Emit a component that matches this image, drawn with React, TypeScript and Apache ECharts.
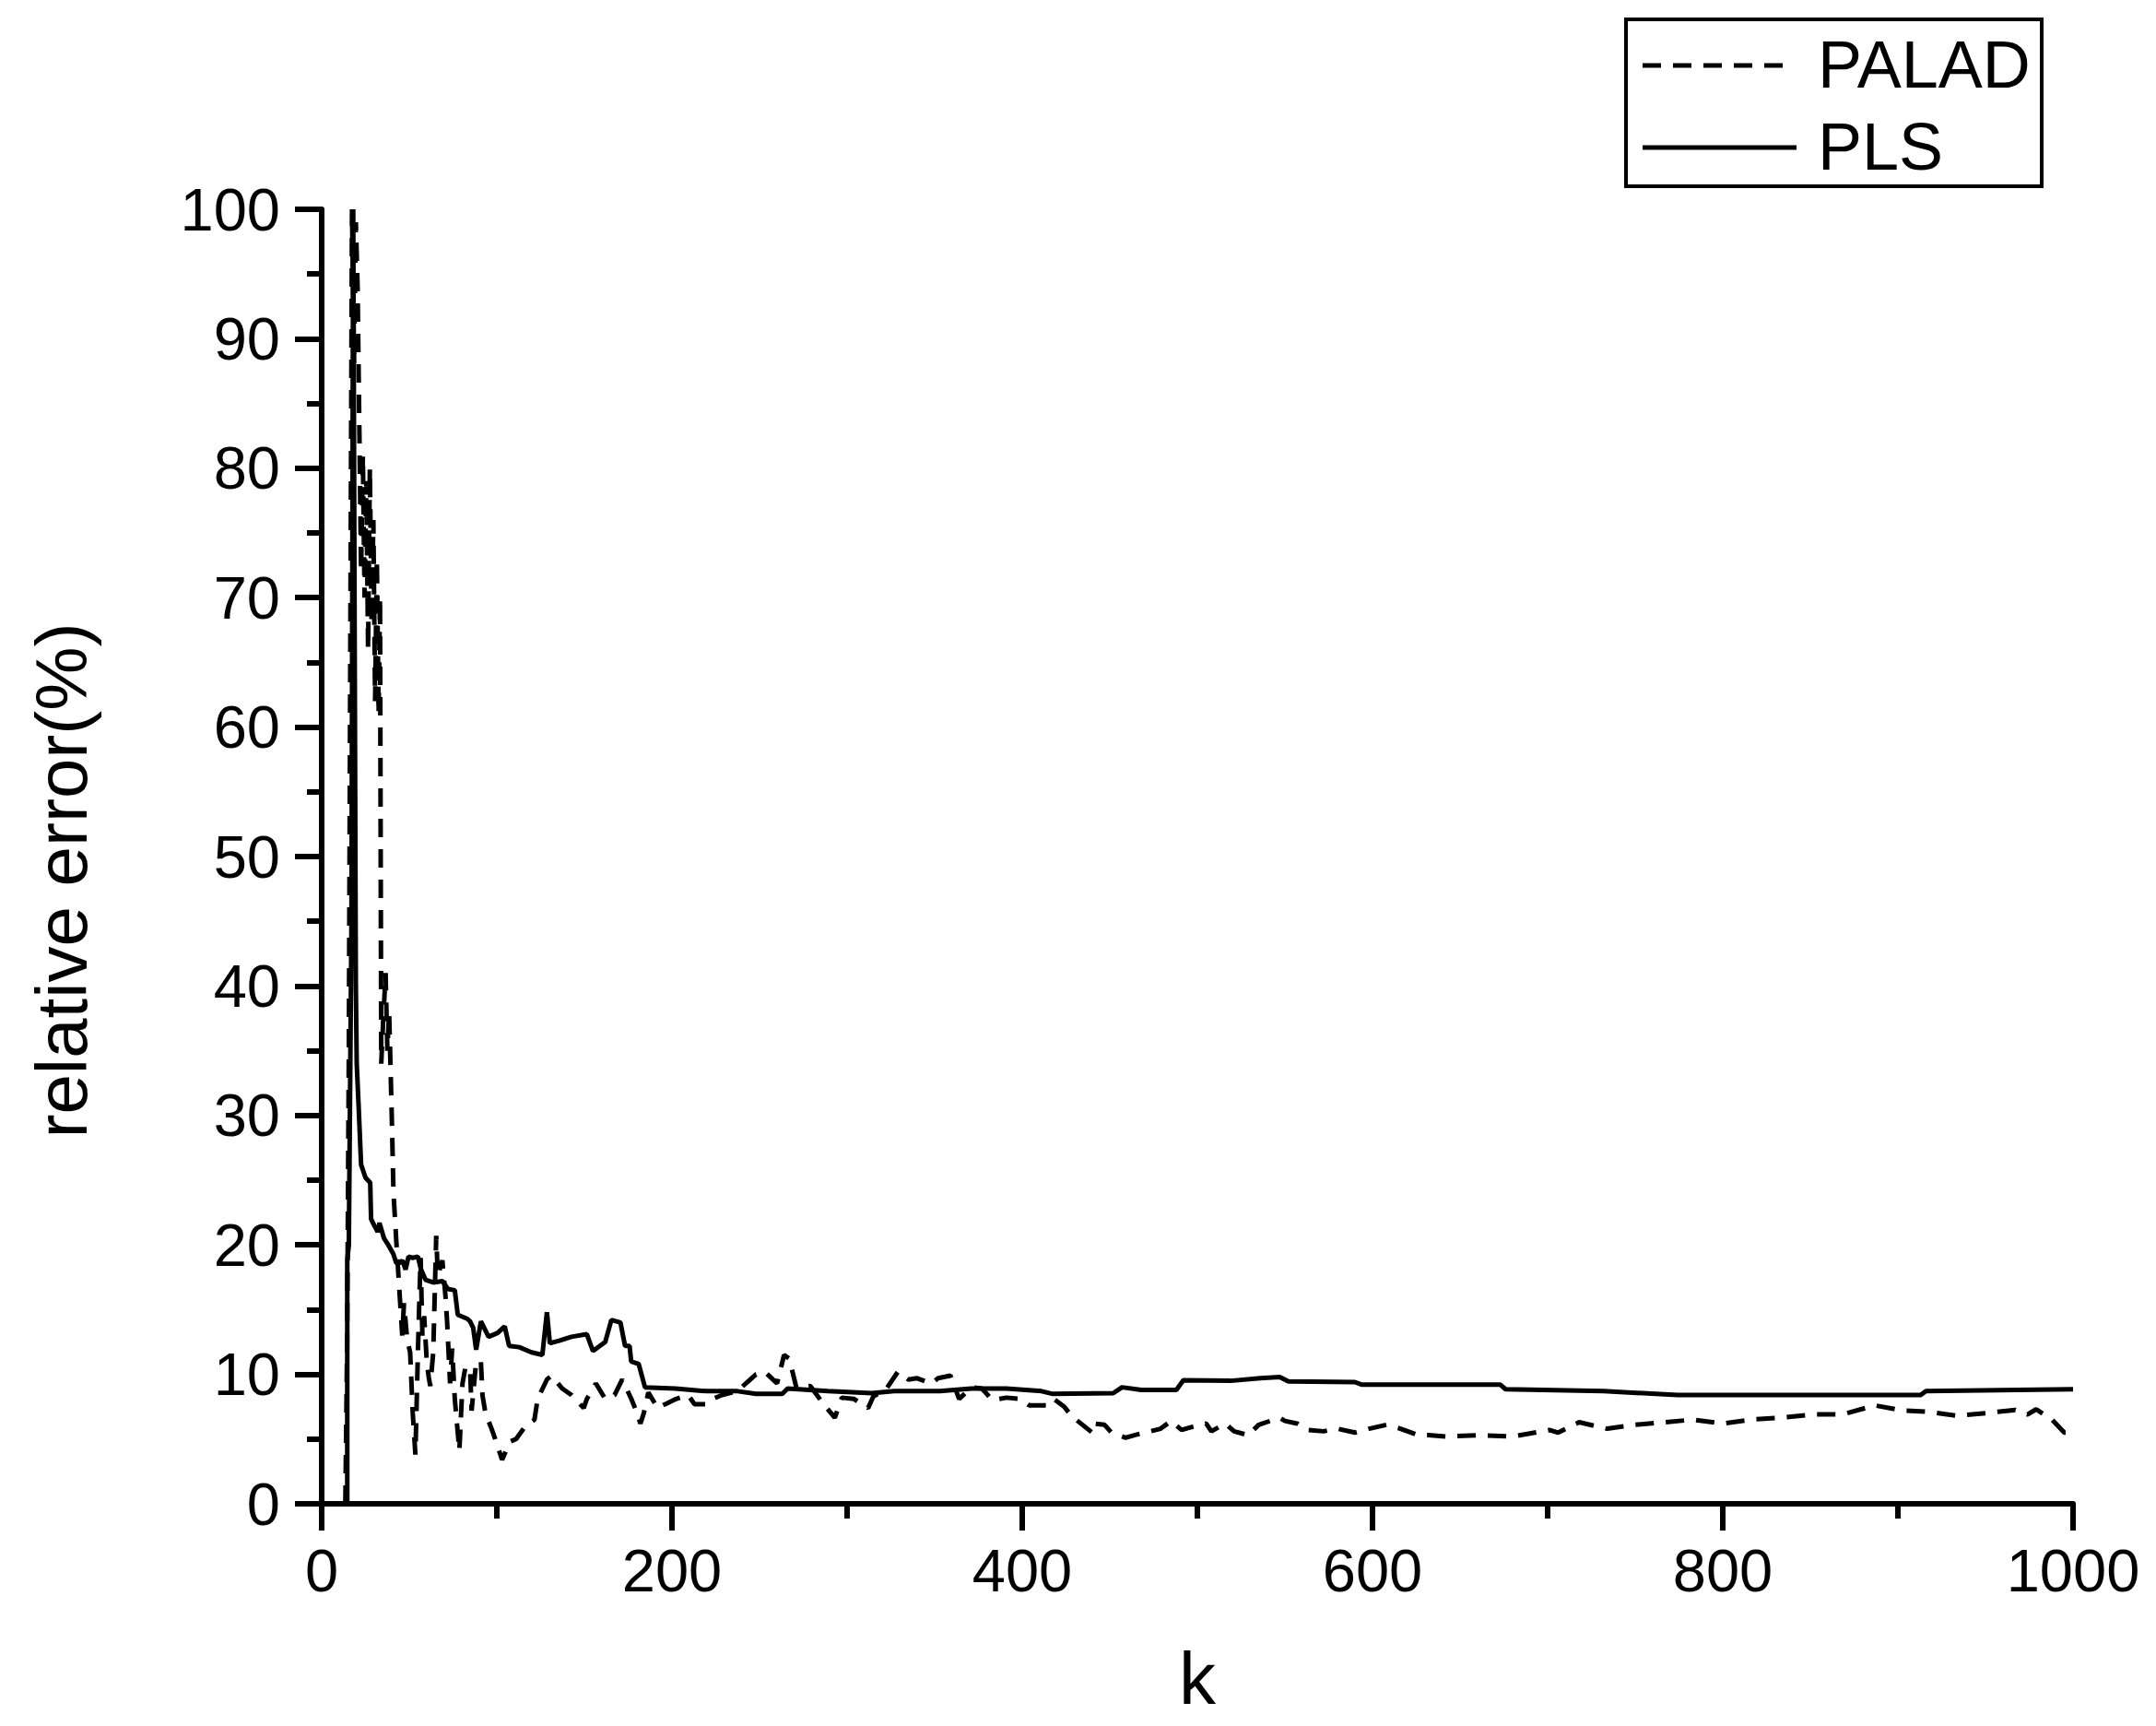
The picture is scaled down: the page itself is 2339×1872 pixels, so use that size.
import { useEffect, useRef } from 'react';
import * as echarts from 'echarts';

const FONT = 'Arial, "Liberation Sans", sans-serif';

// x: iteration k, y: relative error (%)
const paladK = [
  13.5, 14.5, 15.5, 16.5, 17.3, 18.5, 19.5, 20.5, 21.5, 22.5, 23.5, 24.5, 25.5, 26.5, 27.5, 28.5, 29.5,
  30.5, 31.5, 32.5, 33.3, 34, 35, 36.5, 37.5, 38.5, 40, 41, 42.6, 44.4, 46, 47, 48.8, 50.5, 52, 53.5,
  55, 55.8, 56.5, 57.5, 58.5, 60, 61.1, 62, 63.7, 65.4, 66.3, 68.9, 70.7, 71.6, 73.3, 74.5, 76, 78.6,
  80.4, 82, 84.7, 85.6, 88.2, 90.9, 91.8, 93.5, 97, 99.6, 103, 107.5, 111, 116.3, 121.5, 123.3, 128.6,
  131.2, 137.4, 142.6, 149.6, 151.4, 156.6, 161.9, 167.2, 171.6, 173.3, 176.8, 179.5, 182, 183.9, 186.5,
  191.8, 196.2, 202.3, 209.3, 212.8, 219.8, 223.3, 228.6, 237.4, 243, 248, 253, 260, 264, 267, 271, 279,
  286, 293, 297, 304, 312, 315, 322, 329, 335, 340, 348, 352, 359, 364, 371, 377, 383, 391, 399, 404,
  414, 418, 424, 428, 440, 441, 447, 451, 459, 464, 473, 479, 485, 491, 496, 505, 508, 516, 521, 529,
  535, 547, 550, 557, 563, 572, 580, 590, 598, 608, 616, 626, 632, 642, 661, 680, 701, 706, 718, 734,
  750, 767, 783, 800, 816, 833, 852, 868, 887, 903, 918, 934, 950, 967, 974, 979, 988, 995, 1000,
];
const paladErr = [
  0, 12, 35, 72, 100, 88, 99, 94, 83, 72, 81, 70, 79, 66, 80, 68, 76,
  62, 73, 61, 70, 34, 37, 41, 35, 38, 30, 24, 20.3, 16.4, 13, 15.5, 12.7, 11.7, 7, 3.8,
  12, 16, 19, 13, 14.5, 11, 9.8, 9.1, 11.7, 20.7, 17.6, 18.8, 16, 14.1, 9.3, 12, 8.1, 4.1,
  9.3, 10.5, 10.5, 7.2, 11, 11, 8.4, 7, 5.8, 4.8, 3.4, 4.8, 5, 6, 6.5, 8.1, 9.6,
  9.9, 8.9, 8.4, 7.4, 8.1, 9.3, 8.1, 8.4, 9.6, 9.1, 8.1, 7.2, 6.2, 7, 8.6,
  7.4, 7.7, 8.1, 8.4, 7.7, 7.7, 8.1, 8.4, 8.7, 9.4, 10, 10.2, 9.3, 11.5, 11.2, 9, 9.1,
  7.8, 6.65, 8.2, 8.1, 7.4, 8.3, 8.8, 10.2, 9.6, 9.7, 9.3, 9.7, 9.9, 8.1, 9, 8.9, 8, 8.2, 8.1, 7.6,
  7.6, 8.1, 7.5, 6.8, 5.5, 6.2, 6.1, 5.5, 5.1, 5.3, 5.6, 5.8, 6.4, 5.7, 5.9, 6.2, 5.6, 6.2, 5.6, 5.3,
  6.1, 6.65, 6.4, 6.2, 5.7, 5.6, 5.8, 5.5, 5.8, 6.1, 5.8, 5.3, 5.3, 5.2, 5.3, 5.2, 5.7, 5.5, 6.3, 5.8,
  6.1, 6.3, 6.5, 6.2, 6.5, 6.65, 6.9, 6.9, 7.6, 7.2, 7.1, 6.8, 7, 7.25, 6.9, 7.3, 6.5, 5.5, 5.5,
];

const plsK = [
  12.5, 14.6, 14.6, 15.5, 17, 18, 19, 19.5, 20, 21, 22.5, 25, 27.7, 28.2, 30, 32, 33, 35.6, 38, 40.9,
  42.6, 44.4, 46.1, 47.9, 49.6, 52, 54.9, 56.7, 59.3, 63.7, 69, 72, 76, 77.7, 83, 84.7, 86.5, 88.2,
  90.9, 95.3, 100.5, 104.5, 107, 112.8, 119.8, 126, 128.6, 130.3, 135.6, 142.6, 151.4, 154.9, 161.9,
  165.4, 170.6, 173.2, 175.8, 176.7, 181, 184.6, 202, 219.8, 237.4, 248, 263, 266, 289, 314, 327, 353,
  371, 391, 411, 417, 452, 457, 468, 488, 492, 519, 536, 547, 552, 590, 594, 673, 676, 732, 774, 913,
  916, 1000,
];
const plsErr = [
  0, 0, 18.8, 20, 45, 100, 60, 40, 34, 31, 26.2, 25.2, 24.8, 22, 21.5, 21, 21.7, 20.5, 20, 19.3,
  18.6, 18.6, 18.8, 18.1, 19.1, 19, 19.1, 18.1, 17.3, 17.1, 17.2, 16.6, 16.5, 14.6, 14.3, 14.1, 13.6, 11.9,
  14.1, 12.9, 13.2, 13.7, 12.2, 12.1, 11.7, 11.5, 14.8, 12.4, 12.6, 12.9, 13.1, 11.8, 12.5,
  14.2, 14, 12.2, 12.2, 11, 10.8, 9, 8.9, 8.7, 8.7, 8.5, 8.5, 8.9, 8.7, 8.55, 8.7, 8.7,
  8.9, 8.9, 8.7, 8.5, 8.55, 9, 8.8, 8.8, 9.55, 9.5, 9.7, 9.8, 9.45, 9.4, 9.2, 9.2, 8.85, 8.7, 8.4, 8.4,
  8.7, 8.85,
];

const seriesNames = ['PALAD', 'PLS'];
const xTicks = { min: 0, max: 1000, interval: 200 };
const yTicks = { min: 0, max: 100, interval: 10 };

const DASH = [20, 13];

const App = () => {
  const divRef = useRef<HTMLDivElement | null>(null);

  useEffect(() => {
    if (!divRef.current) return;
    const chart = echarts.init(divRef.current, undefined, { renderer: 'svg' });

    const axisCommon = {
      axisLine: { show: true, onZero: false, lineStyle: { color: '#000', width: 6 } },
      axisTick: { show: true, inside: false, length: 29, lineStyle: { color: '#000', width: 6 } },
      minorTick: { show: true, splitNumber: 2, length: 16, lineStyle: { color: '#000', width: 6 } },
      splitLine: { show: false },
      minorSplitLine: { show: false },
      axisLabel: {
        color: '#000',
        fontSize: 65,
        fontFamily: FONT,
        formatter: (v: number) => String(v),
      },
    };

    // legend box drawn by hand so the keys look like the original (no symbols)
    const legend = {
      type: 'group',
      left: 1754,
      top: 11,
      children: [
        {
          type: 'rect',
          shape: { x: 0, y: 0, width: 451, height: 181 },
          style: { fill: '#fff', stroke: '#000', lineWidth: 4 },
        },
        {
          type: 'line',
          shape: { x1: 18, y1: 50, x2: 170, y2: 50 },
          style: { stroke: '#000', lineWidth: 5, lineDash: DASH },
        },
        {
          type: 'line',
          shape: { x1: 18, y1: 139, x2: 185, y2: 139 },
          style: { stroke: '#000', lineWidth: 5 },
        },
        {
          type: 'text',
          x: 208,
          y: 49,
          style: { text: seriesNames[0], fill: '#000', font: `72px ${FONT}`, verticalAlign: 'middle' },
        },
        {
          type: 'text',
          x: 208,
          y: 138,
          style: { text: seriesNames[1], fill: '#000', font: `72px ${FONT}`, verticalAlign: 'middle' },
        },
      ],
    };

    chart.setOption({
      animation: false,
      backgroundColor: '#fff',
      grid: { left: 341, right: 82, top: 219, bottom: 233, containLabel: false },
      xAxis: {
        type: 'value',
        ...xTicks,
        ...axisCommon,
        axisLabel: { ...axisCommon.axisLabel, margin: 40 },
      },
      yAxis: {
        type: 'value',
        ...yTicks,
        ...axisCommon,
        axisLabel: { ...axisCommon.axisLabel, margin: 45 },
      },
      graphic: [
        legend,
        {
          type: 'text',
          x: 59,
          y: 947,
          rotation: Math.PI / 2,
          style: {
            text: 'relative error(%)',
            fill: '#000',
            font: `78px ${FONT}`,
            align: 'center',
            verticalAlign: 'middle',
          },
        },
        {
          type: 'text',
          x: 1291,
          y: 1812,
          style: {
            text: 'k',
            fill: '#000',
            font: `80px ${FONT}`,
            align: 'center',
            verticalAlign: 'middle',
          },
        },
      ],
      series: [
        {
          name: seriesNames[0],
          type: 'line',
          symbol: 'none',
          data: paladK.map((k, i) => [k, paladErr[i]]),
          lineStyle: { color: '#000', width: 5, type: DASH },
        },
        {
          name: seriesNames[1],
          type: 'line',
          symbol: 'none',
          data: plsK.map((k, i) => [k, plsErr[i]]),
          lineStyle: { color: '#000', width: 5 },
        },
      ],
    });

    return () => chart.dispose();
  }, []);

  return <div ref={divRef} style={{ width: 2323, height: 1856 }} />;
};

export default App;
